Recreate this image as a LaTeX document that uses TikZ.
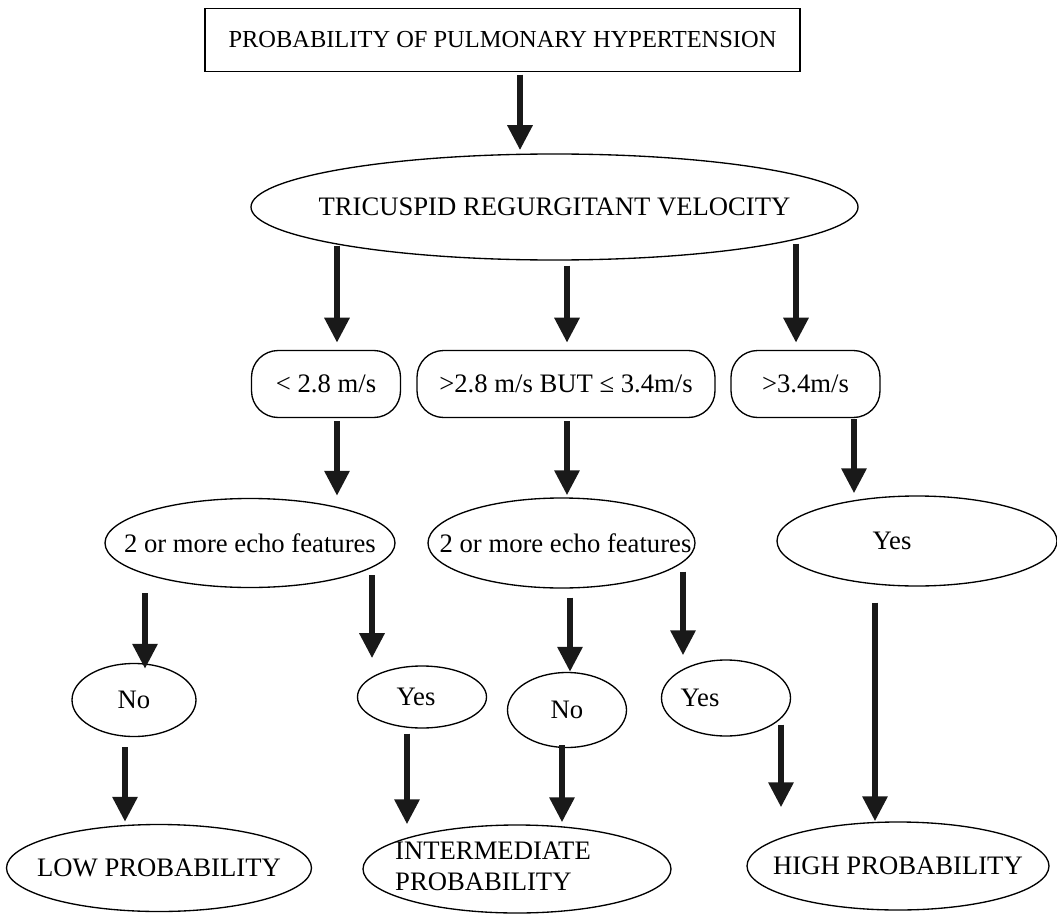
\documentclass[tikz,border=0pt]{standalone}
\usepackage{fontspec}
\setmainfont{Liberation Serif}
\usetikzlibrary{shapes.geometric, arrows.meta}
\tikzstyle{heading} = [rectangle, minimum width=267.75pt, minimum height=28.35pt, text centered, draw=black, font=\fontsize{11}{13}\selectfont]
\tikzstyle{oval} = [ellipse, draw=black, inner sep=0pt]
\tikzstyle{speed} = [rectangle, rounded corners=12pt, minimum width=67.05pt, minimum height=30.15pt, text centered, draw=black]
\tikzstyle{arrow} = [line width=2.7pt, draw=black!90, -{Triangle[width=10.8pt,length=11.25pt]}]
\newcommand{\elltext}[2][0pt]{\makebox[0pt]{#2\hspace*{#1}}}

\begin{document}
\begin{tikzpicture}[x=0.45pt, y=-0.45pt, line width=0.6pt, font=\fontsize{12}{14}\selectfont]
\useasboundingbox (0,0) rectangle (1057,914);

\node (title) [heading] at (502.5,40) {PROBABILITY OF PULMONARY HYPERTENSION};

\node (trv) [oval, minimum width=273.15pt, minimum height=47.7pt] at (554.5,207) {\elltext{TRICUSPID REGURGITANT VELOCITY}};

\node (lt28) [speed] at (326,384) {< 2.8 m/s};
\node (mid) [speed, minimum width=134.1pt] at (566,384) {>2.8 m/s BUT ≤ 3.4m/s};
\node (gt34) [speed] at (805.5,384) {>3.4m/s};

\node (echoA) [oval, minimum width=130.5pt, minimum height=40.05pt] at (250,543) {\elltext{2 or more echo features}};
\node (echoB) [oval, minimum width=120.15pt, minimum height=40.5pt] at (561.5,543) {\elltext[-3.6pt]{2 or more echo features}};
\node (yesC) [oval, minimum width=126pt, minimum height=40.5pt] at (917,541) {\elltext[22.5pt]{Yes}};

\node (noA) [oval, minimum width=55.8pt, minimum height=32.85pt] at (134,700) {\elltext{No}};
\node (yesA) [oval, minimum width=58.05pt, minimum height=27.9pt] at (422,697) {\elltext[5.4pt]{Yes}};
\node (noB) [oval, minimum width=53.55pt, minimum height=33.75pt] at (567,710) {\elltext{No}};
\node (yesB) [oval, minimum width=58.05pt, minimum height=34.2pt] at (726,698) {\elltext[23.4pt]{Yes}};

\node (low) [oval, minimum width=137.25pt, minimum height=39.15pt] at (159,868) {\elltext{LOW PROBABILITY}};
\node (inter) [oval, minimum width=138.6pt, minimum height=39.6pt] at (517,869) {\elltext[21.6pt]{\begin{tabular}{@{}l@{}}INTERMEDIATE\\PROBABILITY\end{tabular}}};
\node (high) [oval, minimum width=135.9pt, minimum height=39.6pt] at (898,866) {\elltext{HIGH PROBABILITY}};

\draw [arrow, shorten >=1.4pt] ([shift={(17.5,2.5)}]title.south) coordinate (a1) -- (a1 |- trv.north);

\draw [arrow, shorten >=3.2pt] ([shift={(-217.5,-15)}]trv.south) coordinate (a2) -- (a2 |- lt28.north);
\draw [arrow, shorten >=3.2pt] ([shift={(12.5,5)}]trv.south) coordinate (a3) -- (a3 |- mid.north);
\draw [arrow, shorten >=3.2pt] ([shift={(241.5,-17)}]trv.south) coordinate (a4) -- (a4 |- gt34.north);

\draw [arrow, shorten >=0.9pt] ([shift={(11,3)}]lt28.south) coordinate (a5) -- (a5 |- echoA.north);
\draw [arrow, shorten >=0.9pt] ([shift={(1,3)}]mid.south) coordinate (a6) -- (a6 |- echoB.north);
\draw [arrow, shorten >=0.9pt] ([shift={(48.5,1)}]gt34.south) coordinate (a7) -- (a7 |- yesC.north);

\draw [arrow, shorten >=-2.7pt] ([shift={(-105,5)}]echoA.south) coordinate (a8) -- (a8 |- noA.north);
\draw [arrow, shorten >=3.2pt] ([shift={(122,-13)}]echoA.south) coordinate (a9) -- (a9 |- yesA.north);
\draw [arrow] ([shift={(8.5,9)}]echoB.south) coordinate (a10) -- (a10 |- noB.north);
\draw [arrow, shorten >=1.8pt] ([shift={(121.5,-17)}]echoB.south) coordinate (a11) -- (a11 |- yesB.north);
\draw [arrow] ([shift={(-42,16)}]yesC.south) coordinate (a12) -- (a12 |- high.north);

\draw [arrow, shorten >=0.9pt] ([shift={(-9,10)}]noA.south) coordinate (a13) -- (a13 |- low.north);
\draw [arrow] ([shift={(-15,5)}]yesA.south) coordinate (a14) -- (a14 |- inter.north);
\draw [arrow, shorten >=0.9pt] ([shift={(-5,-3)}]noB.south) coordinate (a15) -- (a15 |- inter.north);
\draw [arrow, shorten >=6.3pt] ([shift={(55,-12)}]yesB.south) coordinate (a16) -- (a16 |- high.north);
\end{tikzpicture}
\end{document}
